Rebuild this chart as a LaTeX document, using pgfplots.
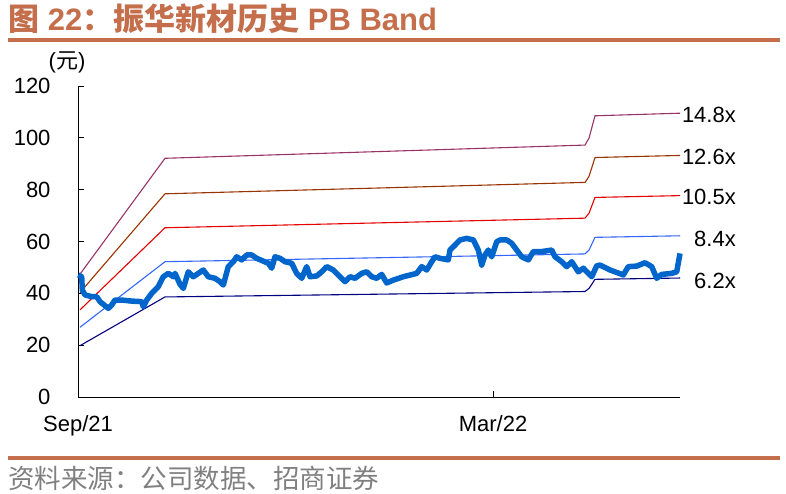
\documentclass[border=0pt]{standalone}
\usepackage{fontspec}
\setmainfont{Liberation Sans}
\setsansfont{Liberation Sans}
\newfontfamily\cjk{Noto Sans CJK SC}
\usepackage{pgfplots}
\pgfplotsset{compat=1.18}

\definecolor{titlec}{RGB}{196,110,76}
\definecolor{footc}{RGB}{128,128,128}
\definecolor{pbf}{RGB}{153,51,102}
\definecolor{pbe}{RGB}{153,51,0}
\definecolor{pbd}{RGB}{230,0,0}
\definecolor{pbc}{RGB}{51,102,255}
\definecolor{pbb}{RGB}{0,0,128}
\definecolor{price}{RGB}{0,102,204}

\begin{document}
\begin{tikzpicture}[x=1bp,y=1bp]
\useasboundingbox (0,0) rectangle (786,494);
% title and rules
\node[anchor=west,inner sep=0,text=titlec,font=\fontsize{31bp}{35bp}\selectfont\bfseries] at (8,475)
  {{\cjk 图} 22{\cjk ：振华新材历史} PB Band};
\draw[titlec,line width=3.5bp] (8,454) -- (780,454);
\draw[titlec,line width=3.5bp] (8,36) -- (780,36);
\node[anchor=west,inner sep=0,text=footc,font=\fontsize{26.5bp}{30bp}\selectfont\cjk] at (8,16)
  {资料来源：公司数据、招商证券};
\node[font=\fontsize{22bp}{26bp}\selectfont] at (67,432) {({\cjk 元})};

\begin{axis}[
    at={(78bp,97bp)}, anchor=south west,
    width=602bp, height=311bp, scale only axis,
    xmin=78, xmax=680, ymin=0, ymax=120,
    axis x line*=bottom, axis y line*=left,
    axis line style={black,line width=0.9bp},
    tick align=inside,
    major tick length=6bp,
    tick style={black,line width=0.9bp},
    xtick={78,493}, xticklabels={Sep/21,Mar/22},
    ytick={0,20,...,120},
    /pgf/number format/assume math mode=true,
    ticklabel style={font=\fontsize{22bp}{26bp}\selectfont},
    yticklabel style={xshift=-24bp},
    xticklabel style={yshift=-15bp},
    clip=false,
]
\addplot[pbf,line width=1.1bp] coordinates {(80,47.4) (165,92.1) (585,97.2) (589,99.9) (595,108.5) (680,109.5)};
\addplot[pbe,line width=1.1bp] coordinates {(80,40.3) (165,78.4) (585,82.8) (589,85.1) (595,92.4) (680,93.2)};
\addplot[pbd,line width=1.1bp] coordinates {(80,33.6) (165,65.3) (585,69.0) (589,70.9) (595,77.0) (680,77.7)};
\addplot[pbc,line width=1.1bp] coordinates {(80,26.9) (165,52.2) (585,55.2) (589,56.7) (595,61.6) (680,62.2)};
\addplot[pbb,line width=1.1bp] coordinates {(80,19.8) (165,38.6) (585,40.7) (589,41.9) (595,45.4) (680,45.9)};
\addplot[price,line width=5.5bp,line join=round] coordinates {
(78.3,47.1) (81.7,46.4) (82.3,41.3) (85,39.4) (91.7,38.7) (96.7,38.7) (100,36.8)
(108.3,34.2) (111.7,35.5) (115,37.4) (121.7,37.4) (131.7,37.0) (141.7,36.8)
(143.3,34.8) (146.7,37.4) (151.7,40.0) (158.3,42.6) (163.3,46.4) (168.3,47.7)
(173.3,46.4) (175,47.7) (180,43.5) (183.3,41.9) (188.3,48.3) (193.3,46.4)
(198.3,47.7) (203.3,49.0) (208.3,46.4) (215,45.8) (220,44.5) (223.3,43.2)
(228.3,50.3) (233.3,52.2) (236.7,54.1) (241.7,52.9) (246.7,54.8) (251.7,54.8)
(256.7,53.5) (268.3,51.6) (271.7,49.7) (275,54.1) (280,53.5) (285,52.2)
(291.7,51.6) (296.7,47.7) (301.7,45.8) (306.7,50.3) (310,46.4) (316.7,46.7)
(321.7,48.3) (326.7,50.3) (333.3,49.0) (340,46.4) (345,44.5) (350,46.4)
(355,45.8) (361.7,47.7) (366.7,48.3) (371.7,46.4) (376.7,45.8) (381.7,47.3)
(386.7,44.0) (393.3,45.1) (403.3,46.4) (416.7,47.7) (421.7,50.3) (426.7,49.0)
(431.7,52.2) (435,54.1) (440,53.5) (448.3,52.9) (450,56.7) (455,58.6)
(460,60.6) (466.7,61.2) (473.3,60.6) (478.3,56.7) (481.7,50.9) (485,54.8)
(488.3,56.7) (491.7,54.1) (496.7,59.9) (500,60.6) (506.7,60.6) (511.7,59.3)
(516.7,56.7) (521.7,54.1) (528.3,52.9) (533.3,56.1) (541.7,56.1) (551.7,56.7)
(555,54.1) (561.7,52.2) (566.7,50.3) (571.7,52.2) (578.3,48.3) (583.3,49.7)
(591.7,46.4) (596.7,50.6) (600,50.9) (610,49.0) (623.3,47.1) (628.3,50.3)
(636.7,50.5) (645,51.8) (651.7,50.3) (656.7,45.8) (661.7,47.3) (671.7,47.7)
(676.7,48.3) (680,55.4)};
\node[anchor=east,inner sep=0,font=\fontsize{22bp}{26bp}\selectfont] at (axis cs:736,108.8) {14.8x};
\node[anchor=east,inner sep=0,font=\fontsize{22bp}{26bp}\selectfont] at (axis cs:736,92.6) {12.6x};
\node[anchor=east,inner sep=0,font=\fontsize{22bp}{26bp}\selectfont] at (axis cs:736,77.2) {10.5x};
\node[anchor=east,inner sep=0,font=\fontsize{22bp}{26bp}\selectfont] at (axis cs:736,61.0) {8.4x};
\node[anchor=east,inner sep=0,font=\fontsize{22bp}{26bp}\selectfont] at (axis cs:736,44.8) {6.2x};
\end{axis}
\end{tikzpicture}
\end{document}
